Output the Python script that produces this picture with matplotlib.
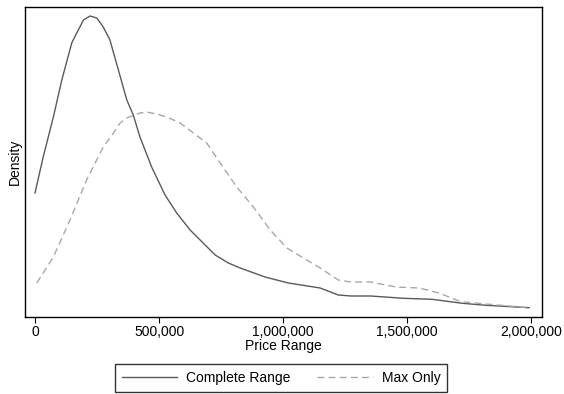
import matplotlib
matplotlib.use("Agg")
import matplotlib.pyplot as plt
from matplotlib.lines import Line2D
from matplotlib.ticker import FuncFormatter

plt.rcParams['font.family'] = ['Liberation Sans', 'DejaVu Sans']

# kernel density estimates (density, arbitrary scale)
price_complete = [0, 33000, 74000, 108000, 148000, 168000, 181000, 195000, 222000,
                  249000, 275000, 302000, 336000, 370000, 396000, 423000, 470000,
                  524000, 571000, 625000, 726000, 779000, 827000, 927000, 1021000,
                  1149000, 1222000, 1273000, 1353000, 1484000, 1600000, 1722000,
                  1817000, 1991000]
density_complete = [124, 160, 200, 237, 274, 284, 290, 297, 301,
                    299, 290, 277, 247, 217, 202, 180, 150,
                    122, 104, 87, 62, 54, 49, 40, 34,
                    29, 22, 21, 21, 18.7, 17.7, 13.7,
                    11.7, 9.3]

price_max = [7000, 74000, 141000, 208000, 275000, 316000, 343000, 370000, 423000,
             450000, 490000, 531000, 585000, 638000, 692000, 746000, 813000,
             880000, 948000, 1015000, 1095000, 1149000, 1222000, 1273000, 1353000,
             1454000, 1548000, 1628000, 1715000, 1817000, 1991000]
density_max = [34, 60, 97, 137, 170, 184, 194, 199, 204,
               205, 203, 200, 194, 184, 174, 154, 130,
               110, 87, 69, 57, 49, 37, 35, 35,
               30, 29, 24, 15.3, 13, 9.3]

x_ticks = [0, 500000, 1000000, 1500000, 2000000]

fig = plt.figure(figsize=(5.64, 3.94), dpi=100)
ax = fig.add_axes([25 / 564, (394 - 317) / 394, (542 - 25) / 564, (317 - 7) / 394])

ax.plot(price_complete, density_complete, color='#5a5a5a', lw=1.0, solid_joinstyle='round')
ax.plot(price_max, density_max, color='#a8a8a8', lw=1.0, dashes=(5, 3))

ax.set_xlim(-40300, 2043000)
ax.set_ylim(0, 310)
ax.set_xticks(x_ticks)
ax.xaxis.set_major_formatter(FuncFormatter(lambda v, p: f'{int(v):,}'))
ax.set_yticks([])
ax.tick_params(axis='x', direction='out', length=4, width=0.8, labelsize=10, pad=2)
for s in ax.spines.values():
    s.set_color('black')
    s.set_linewidth(1.0)

ax.set_xlabel('Price Range', fontsize=10, labelpad=0)
ax.set_ylabel('Density', fontsize=10, labelpad=2)

handles = [Line2D([], [], color='#5a5a5a', lw=1.0),
           Line2D([], [], color='#a8a8a8', lw=1.0, dashes=(5, 3))]
leg = fig.legend(handles, ['Complete Range', 'Max Only'], loc='center',
                 bbox_to_anchor=(281 / 564, 1 - 378 / 394), ncol=2, fontsize=10,
                 frameon=True, fancybox=False, handlelength=4, columnspacing=1.9,
                 borderpad=0.5, handletextpad=0.65, borderaxespad=0)
leg.get_frame().set_edgecolor('black')
leg.get_frame().set_linewidth(1.0)

fig.savefig('out.png', dpi=100)
